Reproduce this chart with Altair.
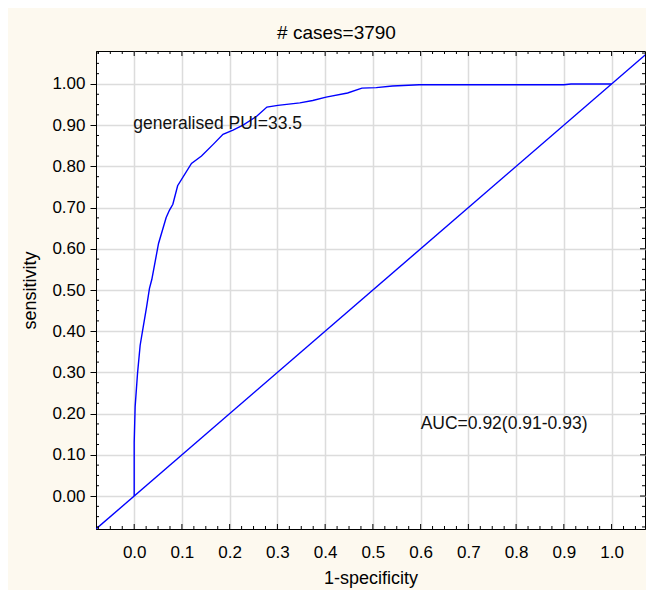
import altair as alt
import pandas as pd

# ROC curve
roc_x = [0.0, 0.0, 0.002, 0.007, 0.0125, 0.019, 0.026, 0.032, 0.037, 0.051,
         0.067, 0.074, 0.081, 0.091, 0.120, 0.141, 0.166, 0.186, 0.207, 0.228,
         0.256, 0.278, 0.301, 0.347, 0.374, 0.402, 0.447, 0.477, 0.507, 0.541,
         0.597, 0.900, 0.915, 1.000]
roc_y = [0.0, 0.13, 0.217, 0.298, 0.366, 0.411, 0.459, 0.504, 0.526, 0.613,
         0.676, 0.694, 0.708, 0.753, 0.807, 0.825, 0.854, 0.878, 0.888, 0.900,
         0.921, 0.944, 0.948, 0.954, 0.960, 0.968, 0.978, 0.990, 0.991, 0.995,
         0.998, 0.998, 1.000, 1.000]

# reference diagonal
diag_x = [-0.08, 1.08]
diag_y = [-0.08, 1.08]

# annotations
note_text = ["generalised PUI=33.5", "AUC=0.92(0.91-0.93)"]
note_x = [-0.002, 0.60]
note_y = [0.89, 0.162]

# ticks
major_ticks = [0.0, 0.1, 0.2, 0.3, 0.4, 0.5, 0.6, 0.7, 0.8, 0.9, 1.0]
minor_ticks = [round(-0.075 + 0.025 * i, 3) for i in range(47)]
minor_ticks = [v for v in minor_ticks if abs(v * 10 - round(v * 10)) > 1e-6]

title_text = "# cases=3790"
x_title = "1-specificity"
y_title = "sensitivity"

FONT = "Liberation Sans, Arial, Helvetica, sans-serif"
X_DOM = [-0.08, 1.07]
Y_DOM = [-0.08, 1.08]
W, H = 549, 478

xs = alt.Scale(domain=X_DOM, nice=False, zero=False)
ys = alt.Scale(domain=Y_DOM, nice=False, zero=False)

x_axis = alt.Axis(values=major_ticks, format=".1f", title=x_title,
                  grid=True, tickSize=0, labelPadding=15, titlePadding=9)
y_axis = alt.Axis(values=major_ticks, format=".2f", title=y_title,
                  grid=True, tickSize=6, labelPadding=5, titlePadding=12)

roc_df = pd.DataFrame({"fpr": roc_x, "tpr": roc_y, "i": list(range(len(roc_x)))})
diag_df = pd.DataFrame({"fpr": diag_x, "tpr": diag_y})
note_df = pd.DataFrame({"fpr": note_x, "tpr": note_y, "t": note_text})
minor_df = pd.DataFrame({"fpr": minor_ticks, "tpr": minor_ticks})
major_df = pd.DataFrame({"fpr": major_ticks, "tpr": major_ticks})

X = lambda: alt.X("fpr:Q", scale=xs, axis=x_axis)
Y = lambda: alt.Y("tpr:Q", scale=ys, axis=y_axis)

roc = alt.Chart(roc_df).mark_line(color="#0000FF", strokeWidth=1.4).encode(
    x=X(), y=Y(), order=alt.Order("i:Q"),
)

diag = alt.Chart(diag_df).mark_line(color="#0000FF", strokeWidth=1.4, clip=True).encode(
    x=X(), y=Y(),
)

notes = alt.Chart(note_df).mark_text(
    align="left", baseline="alphabetic", font=FONT, fontSize=17.5, color="#111111"
).encode(x=X(), y=Y(), text="t:N")

tick_style = dict(color="black", strokeWidth=1)

def xticks(df, y0, y1):
    return alt.Chart(df).mark_rule(**tick_style).encode(
        x=X(), y=alt.value(y0), y2=alt.value(y1))

def yticks(df, x0, x1):
    return alt.Chart(df).mark_rule(**tick_style).encode(
        y=Y(), x=alt.value(x0), x2=alt.value(x1))

ticks = [
    xticks(minor_df, H, H - 3), xticks(minor_df, 0, 3),
    yticks(minor_df, 0, 3), yticks(minor_df, W, W - 3),
    xticks(major_df, H, H - 5), xticks(major_df, 0, 5),
    yticks(major_df, W, W - 5),
]

chart = alt.layer(roc, diag, notes, *ticks).properties(
    width=W,
    height=H,
    autosize=alt.AutoSizeParams(type="none"),
    padding={"left": 88, "top": 43, "right": 1, "bottom": 61},
    background="#FDF9EF",
    title=alt.Title(title_text, font=FONT, fontSize=19, fontWeight="normal",
                    color="black", offset=8, dx=-34),
).configure_view(
    stroke="black", strokeWidth=1, fill="white"
).configure_axis(
    domainColor="black", domainWidth=1, tickColor="black",
    gridColor="#DCDCDC", gridWidth=1.5,
    labelFont=FONT, labelFontSize=17, labelColor="black",
    titleFont=FONT, titleFontSize=18, titleFontWeight="normal", titleColor="black",
)

chart.save("out.html", embed_options={"renderer": "svg", "actions": False})
